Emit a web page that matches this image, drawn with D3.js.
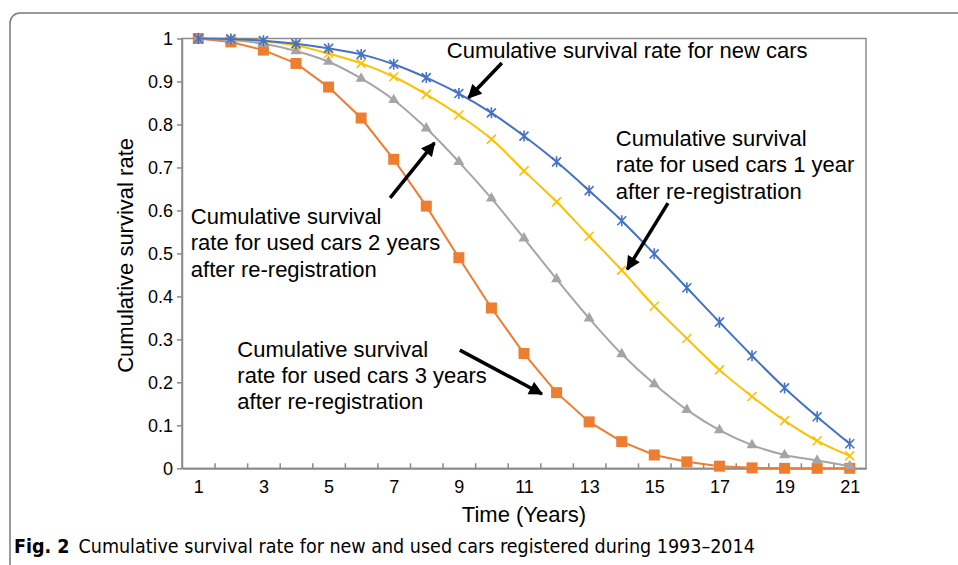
<!DOCTYPE html>
<html>
<head>
<meta charset="utf-8">
<script src="https://cdn.jsdelivr.net/npm/d3@7"></script>
<style>
  body { margin: 0; background: #fff; }
  svg { display: block; }
  text { font-family: "Liberation Sans", Arial, sans-serif; fill: #000; }
</style>
</head>
<body>
<svg id="chart" width="958" height="565"></svg>
<script>
/*
 * Chart values
 */
var years = [1, 2, 3, 4, 5, 6, 7, 8, 9, 10, 11, 12, 13, 14, 15, 16, 17, 18, 19, 20, 21];
var newCars = [1.000, 0.999, 0.995, 0.988, 0.977, 0.963, 0.940, 0.909, 0.872, 0.827, 0.773,
               0.713, 0.646, 0.576, 0.499, 0.420, 0.340, 0.262, 0.187, 0.120, 0.057];
var usedCars1 = [1.000, 0.999, 0.993, 0.984, 0.965, 0.942, 0.911, 0.870, 0.822, 0.766, 0.692,
                 0.620, 0.540, 0.461, 0.377, 0.302, 0.229, 0.167, 0.111, 0.064, 0.029];
var usedCars2 = [1.000, 0.996, 0.988, 0.971, 0.946, 0.907, 0.857, 0.791, 0.713, 0.628, 0.535,
                 0.440, 0.349, 0.266, 0.196, 0.136, 0.089, 0.054, 0.031, 0.018, 0.005];
var usedCars3 = [1.000, 0.992, 0.973, 0.942, 0.887, 0.815, 0.719, 0.610, 0.490, 0.373, 0.267,
                 0.176, 0.108, 0.062, 0.031, 0.015, 0.005, 0.001, 0.000, 0.000, 0.000];

var xTickLabels = [1, 3, 5, 7, 9, 11, 13, 15, 17, 19, 21];
var yTickLabels = [0, 0.1, 0.2, 0.3, 0.4, 0.5, 0.6, 0.7, 0.8, 0.9, 1];

// annotation texts, anchored in data units (year, rate)
var notes = [
    {lines: ['Cumulative survival rate for new cars'], at: [8.63, 0.955],
     arrow: [[10.32, 0.943], [9.30, 0.862]]},
    {lines: ['Cumulative survival', 'rate for used cars 1 year', 'after re-registration'], at: [13.82, 0.750],
     arrow: [[15.42, 0.617], [14.17, 0.463]]},
    {lines: ['Cumulative survival', 'rate for used cars 2 years', 'after re-registration'], at: [0.77, 0.568],
     arrow: [[6.89, 0.629], [8.25, 0.757]]},
    {lines: ['Cumulative survival', 'rate for used cars 3 years', 'after re-registration'], at: [2.20, 0.2595],
     arrow: [[9.03, 0.275], [11.55, 0.173]]}
];

/*
 * Layout
 */
var svg = d3.select('#chart');
var plot = {left: 182, right: 866, top: 38.5, bottom: 468.3};

var x = d3.scaleLinear().domain([0.5, 21.5]).range([plot.left, plot.right]);
var y = d3.scaleLinear().domain([0, 1]).range([plot.bottom, plot.top]);

// outer figure frame (rounded top-left corner)
svg.append('path')
    .attr('d', 'M10,570V23A10,10 0 0 1 20,13H960')
    .attr('fill', 'none')
    .attr('stroke', '#7a7a7a')
    .attr('stroke-width', 1.5);

// plot border
svg.append('rect')
    .attr('x', plot.left).attr('y', plot.top)
    .attr('width', plot.right - plot.left)
    .attr('height', plot.bottom - plot.top)
    .attr('fill', 'none')
    .attr('stroke', '#8e8e8e')
    .attr('stroke-width', 1.5);

// y axis
var yAxis = svg.append('g')
    .attr('transform', 'translate(' + plot.left + ',0)')
    .call(d3.axisLeft(y)
        .tickValues(yTickLabels)
        .tickFormat(function(d) { return +d.toFixed(1); })
        .tickSize(5)
        .tickSizeOuter(0)
        .tickPadding(4));
yAxis.selectAll('text').style('font-size', '18px');

// x axis labels at the odd years
var xAxis = svg.append('g')
    .attr('transform', 'translate(0,' + plot.bottom + ')')
    .call(d3.axisBottom(x)
        .tickValues(xTickLabels)
        .tickFormat(d3.format('d'))
        .tickSize(0)
        .tickSizeOuter(0)
        .tickPadding(12));
xAxis.selectAll('text').style('font-size', '18px');

// x tick marks sit between categories and point inwards
var between = years.slice(0, -1).map(function(d) { return d + 0.5; });
svg.append('g')
    .attr('transform', 'translate(0,' + plot.bottom + ')')
    .call(d3.axisBottom(x).tickValues(between).tickFormat('').tickSize(-5).tickSizeOuter(0));

svg.selectAll('.domain, .tick line')
    .attr('stroke', '#8a8a8a')
    .attr('stroke-width', 1.5);

// axis titles
svg.append('text')
    .attr('transform', 'translate(133,' + ((plot.top + plot.bottom) / 2 + 2) + ') rotate(-90)')
    .attr('text-anchor', 'middle')
    .style('font-size', '22px')
    .text('Cumulative survival rate');

svg.append('text')
    .attr('x', (plot.left + plot.right) / 2)
    .attr('y', 522)
    .attr('text-anchor', 'middle')
    .style('font-size', '22px')
    .text('Time (Years)');

/*
 * Series, drawn back to front
 */
var series = [
    {values: usedCars3, color: '#ED7D31', marker: 'square', curve: d3.curveLinear},
    {values: usedCars2, color: '#A5A5A5', marker: 'triangle', curve: d3.curveCatmullRom},
    {values: usedCars1, color: '#FFC000', marker: 'cross', curve: d3.curveCatmullRom},
    {values: newCars, color: '#4472C4', marker: 'star', curve: d3.curveCatmullRom}
];

series.forEach(function(s) {
    var pts = years.map(function(yr, i) { return [yr, s.values[i]]; });
    var line = d3.line()
        .x(function(d) { return x(d[0]); })
        .y(function(d) { return y(d[1]); })
        .curve(s.curve);

    svg.append('path')
        .datum(pts)
        .attr('d', line)
        .attr('fill', 'none')
        .attr('stroke', s.color)
        .attr('stroke-width', 2);

    var m = svg.append('g').selectAll('path')
        .data(pts)
        .join('path')
        .attr('transform', function(d) { return 'translate(' + x(d[0]) + ',' + y(d[1]) + ')'; });

    if (s.marker === 'square') {
        m.attr('d', d3.symbol(d3.symbolSquare, 121)).attr('fill', s.color);
    } else if (s.marker === 'triangle') {
        m.attr('d', d3.symbol(d3.symbolTriangle, 52)).attr('fill', s.color);
    } else if (s.marker === 'cross') {
        m.attr('d', 'M-4.5,-4.5L4.5,4.5M-4.5,4.5L4.5,-4.5')
            .attr('fill', 'none').attr('stroke', s.color).attr('stroke-width', 1.6);
    } else {
        m.attr('d', 'M-4.5,-4.5L4.5,4.5M-4.5,4.5L4.5,-4.5M0,-5.5L0,5.5')
            .attr('fill', 'none').attr('stroke', s.color).attr('stroke-width', 1.6);
    }
});

/*
 * Annotations with arrows
 */
svg.append('defs').append('marker')
    .attr('id', 'head')
    .attr('markerUnits', 'userSpaceOnUse')
    .attr('viewBox', '0 0 10 10')
    .attr('refX', 9).attr('refY', 5)
    .attr('markerWidth', 15).attr('markerHeight', 14)
    .attr('orient', 'auto')
    .append('path')
    .attr('d', 'M0,0L10,5L0,10z')
    .attr('fill', '#000');

notes.forEach(function(n) {
    var t = svg.append('text')
        .attr('x', x(n.at[0]))
        .attr('y', y(n.at[1]))
        .style('font-size', '22px');
    n.lines.forEach(function(l, i) {
        t.append('tspan')
            .attr('x', x(n.at[0]))
            .attr('dy', i === 0 ? 0 : 26.3)
            .text(l);
    });
    svg.append('line')
        .attr('x1', x(n.arrow[0][0])).attr('y1', y(n.arrow[0][1]))
        .attr('x2', x(n.arrow[1][0])).attr('y2', y(n.arrow[1][1]))
        .attr('stroke', '#000')
        .attr('stroke-width', 3.5)
        .attr('marker-end', 'url(#head)');
});

// figure caption
var cap = svg.append('text')
    .attr('x', 14)
    .attr('y', 553)
    .style('font-family', '"Liberation Sans Narrow", "DejaVu Sans Condensed", sans-serif')
    .style('font-size', '19.5px');
cap.append('tspan').style('font-weight', 'bold').text('Fig. 2');
cap.append('tspan').attr('dx', 9).text('Cumulative survival rate for new and used cars registered during 1993\u20132014');
</script>
</body>
</html>
